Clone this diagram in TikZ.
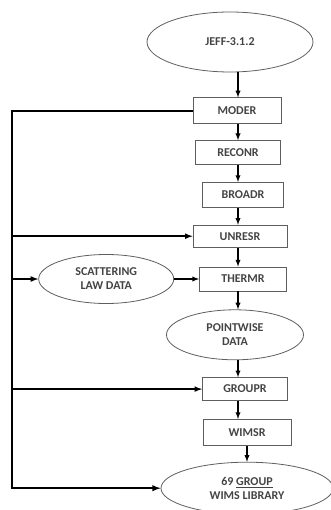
\documentclass[tikz,border=0pt]{standalone}
\usepackage{fontspec}
\setmainfont{Carlito}
\usetikzlibrary{positioning, calc, shapes.geometric}
\usetikzlibrary{arrows}

\begin{document}
\begin{tikzpicture}[x=1pt, y=1pt, font=\bfseries\fontsize{12}{14}\selectfont, align=center, >=latex, line width=1.3pt]
        % Define colors
        \definecolor{inkgray}{HTML}{444444}
        \definecolor{boxgray}{HTML}{5E5E5E}
        \tikzset{
            proc/.style={draw=boxgray, line width=0.8pt, rectangle, text=inkgray, inner sep=0pt},
            datum/.style={draw=boxgray, line width=0.8pt, ellipse, text=inkgray, inner sep=0pt}
        }
        \useasboundingbox (0,0) rectangle (331,-510);

        % Nodes
        \node[datum, minimum width=166pt, minimum height=60pt] (jeff) at (230,-42) {JEFF-3.1.2};
        \node[proc, below=25pt of jeff, xshift=7pt, minimum width=88pt, minimum height=26pt] (moder) {MODER};
        \node[proc, below=16pt of moder, xshift=1pt, minimum width=85pt, minimum height=24pt] (reconr) {RECONR};
        \node[proc, below=17pt of reconr, xshift=5pt, minimum width=81pt, minimum height=25pt] (broadr) {BROADR};
        \node[proc, below=17pt of broadr, xshift=-3pt, minimum width=94pt, minimum height=22pt] (unresr) {UNRESR};
        \node[proc, below=19pt of unresr, xshift=3pt, minimum width=87pt, minimum height=24pt] (thermr) {THERMR};
        \node[datum, left=25pt of thermr, minimum width=135pt, minimum height=49pt] (scatter) {SCATTERING\\LAW DATA};
        \node[datum, below=18pt of thermr, xshift=-8pt, minimum width=137pt, minimum height=50pt] (pointwise) {POINTWISE\\DATA};
        \node[proc, below=17pt of pointwise, xshift=10pt, minimum width=85pt, minimum height=23pt] (groupr) {GROUPR};
        \node[proc, below=18pt of groupr, xshift=2pt, minimum width=88pt, minimum height=26pt] (wimsr) {WIMSR};
        \node[datum, below=16pt of wimsr, minimum width=172pt, minimum height=52pt] (lib) {69 \underline{GROUP}\\WIMS LIBRARY};

        \coordinate[left=181pt of moder.west] (bus);

        % Edges
        \foreach \a/\b in {jeff/moder, moder/reconr, reconr/broadr, broadr/unresr, unresr/thermr, thermr/pointwise, pointwise/groupr, groupr/wimsr} {
            \draw[->] (\a.south -| reconr) -- (\b.north -| reconr);
        }
        \draw[->] (wimsr) -- (lib);
        \draw[->] (scatter) -- (thermr);

        \draw[->, line width=1.8pt] (moder.west) -- (bus) |- (lib.west);
        \foreach \n in {unresr, scatter, groupr} {
            \draw[->, line width=1.6pt] (bus |- \n.west) -- (\n.west);
        }
    \end{tikzpicture}
\end{document}
